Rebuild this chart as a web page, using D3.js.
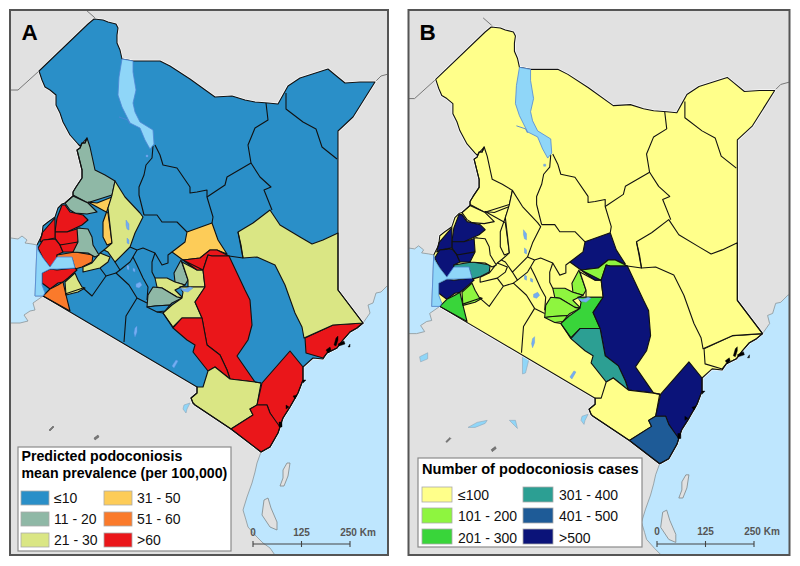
<!DOCTYPE html>
<html><head><meta charset="utf-8">
<script src="https://cdn.jsdelivr.net/npm/d3@7/dist/d3.min.js"></script>
<style>html,body{margin:0;padding:0;background:#fff}svg{display:block}text{font-family:"Liberation Sans",Arial,sans-serif}</style>
</head><body><svg id="c" width="800" height="566"></svg>
<script>
// ---- Map geometry, in map grid units ----
const kenyaOutline=[[37,245],[42,235],[43,226],[48,222],[55,217],[58,208],[62,204],[65,203],[73,196],[73,192],[76,187],[82,178],[82,170],[77,150],[80,148],[82,143],[85,143],[87,138],[80,146],[78,144],[70,135],[63,122],[60,113],[56,105],[56,95],[50,90],[45,87],[42,80],[39,71],[88,24],[94,19],[103,20],[108,22],[116,24],[118,28],[117,35],[117,43],[120,50],[122,59],[133,61],[160,61],[170,66],[190,79],[215,97],[232,96],[245,100],[255,102],[268,103],[278,104],[283,95],[288,86],[300,78],[328,69],[334,74],[345,83],[360,82],[375,82],[353,117],[338,131],[338,290],[363,323],[357,328],[350,332],[343,340],[337,348],[327,353],[323,359],[313,358],[303,367],[303,380],[298,393],[290,407],[283,418],[278,433],[270,447],[261,452],[231,429],[195,405],[193,403],[191,398],[197,393],[197,387],[43,296]];
const oceanRing=[[396,282],[388,285],[381,292],[376,293],[373,303],[368,305],[370,313],[363,323],[357,328],[350,332],[343,340],[337,348],[327,353],[323,359],[313,358],[303,367],[303,380],[298,393],[290,407],[283,418],[278,433],[270,447],[261,452],[257,463],[255,472],[252,483],[247,497],[243,510],[246,520],[248,527],[256,536],[263,543],[270,548],[277,558],[396,558]];
const victoriaRing=[[4,238],[11,238],[18,239],[22,236],[27,240],[25,243],[32,244],[37,245],[35,296],[43,296],[33,303],[35,310],[30,311],[24,315],[28,321],[20,323],[4,323]];
const victoriaKenya=[[37,245],[38,250],[43,258],[50,267],[57,257],[72,257],[75,268],[57,269],[50,269],[42,273],[42,285],[45,293],[43,296],[35,296]];
const turkanaLake=[[122,59],[133,61],[133,72],[136,90],[133,103],[135,112],[140,122],[153,130],[154,144],[150,149],[145,140],[140,128],[130,123],[122,107],[118,95],[119,77]];
const smallLakes=[[[126,220],[129,224],[129,230],[127,229],[126,225]],[[127,238],[129,240],[129,244],[127,243]],[[127,265],[129,266],[129,270],[127,269]],[[133,268],[135,269],[135,272],[133,271]],[[136,284],[140,282],[142,285],[139,288],[136,287]],[[180,288],[185,289],[190,287],[193,288],[188,292],[183,291]],[[146,155],[148,155],[148,157],[146,157]],[[135,328],[137,326],[137,332],[135,337],[134,333]],[[172,366],[176,360],[178,361],[174,368]]];
const outerLakesBoth=[[[184,405],[190,403],[187,409],[186,413],[183,409]]];
const outerLakesB=[[[125,344],[130,342],[131,350],[128,362],[125,363]],[[23,346],[31,342],[31,348],[24,351]],[[71,416],[80,411],[90,409],[88,412],[78,416]],[[112,409],[118,409],[120,417],[117,414]]];
const islands=[[[283,470],[287,463],[290,463],[288,476],[284,486],[280,486],[283,478]],[[264,500],[268,498],[271,508],[277,522],[277,530],[270,527],[262,515]]];
const darkSpecks=[[[49,430],[53,426],[54,427],[50,431]],[[94,438],[98,435],[99,437],[95,440]]];
const mangroves=[[[326,350],[330,347],[331,350],[328,353]],[[334,345],[336,338],[338,336],[338,340],[336,346]],[[338,344],[344,341],[345,344],[339,346]],[[279,422],[282,422],[282,427],[279,427]],[[303,380],[306,380],[303,383]],[[293,396],[297,395],[295,399]],[[286,405],[289,407],[286,409]],[[348,347],[350,344],[350,347]]];
const neighbourLines=[[[4,90],[18,90],[39,71]],[[86,10],[94,17],[96,19]],[[375,82],[381,76],[392,73]]];
const turkwelRiver=[[119,117],[128,120],[130,124]];

const regionNames=["West Pokot","Trans Nzoia","Bungoma","Kakamega","Busia","Siaya","Vihiga","Kisumu","Homa Bay","Migori","Kisii","Kericho","Nandi","Elgeyo","Baringo","Meru","Tharaka","Kirinyaga","Nyeri","Murang'a","Nairobi","Embu","Machakos","Kitui","Makueni","Taita","Kilifi","Kwale","Lamu","Garissa"];
const regionRings=[
[[87,138],[90,147],[95,170],[105,175],[115,181],[112,195],[90,202],[88,203],[73,195],[73,192],[76,187],[82,178],[82,170],[77,150],[80,148],[82,143],[85,143]],
[[65,203],[73,196],[88,203],[97,212],[87,214],[75,213],[70,210]],
[[65,205],[70,212],[83,215],[88,220],[82,225],[67,232],[55,232],[57,218],[62,205]],
[[55,232],[67,232],[80,228],[78,242],[70,245],[60,245],[55,238]],
[[42,233],[55,218],[55,232],[55,238],[45,240],[40,242]],
[[38,248],[43,240],[55,239],[60,245],[63,252],[57,255],[58,260],[50,267],[43,258]],
[[60,245],[78,242],[75,252],[63,252]],
[[57,255],[75,252],[93,255],[92,262],[82,267],[75,269],[72,258],[57,258]],
[[42,273],[50,269],[57,270],[75,268],[77,270],[68,278],[63,282],[58,283],[50,289],[42,283]],
[[43,296],[50,289],[58,285],[63,282],[66,295],[70,311]],
[[65,282],[75,273],[78,280],[82,287],[85,288],[78,292],[66,295]],
[[83,267],[92,263],[100,253],[110,257],[108,262],[100,268],[83,272]],
[[77,228],[88,229],[92,237],[93,245],[99,255],[95,257],[88,253],[73,252],[78,242]],
[[88,202],[97,203],[112,197],[108,208],[103,222],[103,237],[107,245],[112,243],[108,213]],
[[115,181],[125,197],[140,213],[143,217],[135,233],[130,247],[115,262],[108,252],[104,250],[112,243],[110,225],[108,208],[112,195]],
[[172,252],[185,242],[187,232],[212,223],[218,240],[227,254],[217,250],[210,250],[200,258],[183,260]],
[[183,260],[200,258],[210,250],[217,250],[229,256],[219,256],[212,256],[208,255],[203,270],[197,270]],
[[181,260],[188,280],[185,285],[175,282],[174,273]],
[[155,278],[167,278],[175,282],[185,285],[175,290],[183,298],[177,297],[162,288],[157,287]],
[[153,287],[162,288],[177,297],[182,298],[172,303],[170,305],[155,306],[147,307],[148,295]],
[[147,307],[155,306],[170,305],[165,311],[157,312]],
[[182,262],[197,270],[203,270],[205,287],[180,287],[188,287],[188,280]],
[[180,287],[205,287],[195,302],[202,318],[182,318],[173,327],[163,313],[172,305],[182,298],[183,292]],
[[183,260],[197,270],[203,270],[208,255],[212,256],[229,256],[245,290],[250,300],[252,325],[248,340],[237,356],[255,382],[230,379],[227,370],[220,355],[207,345],[202,318],[195,302],[205,287],[203,270]],
[[173,328],[182,318],[202,318],[207,345],[220,355],[227,370],[230,379],[215,367],[208,371],[193,352],[195,345],[187,340]],
[[215,367],[230,379],[255,382],[261,383],[257,405],[250,409],[253,415],[231,429],[195,405],[193,403],[191,398],[197,393],[197,387],[203,387],[208,371]],
[[290,351],[303,367],[303,380],[298,393],[290,407],[283,418],[279,428],[270,413],[267,405],[257,405],[262,383]],
[[257,405],[267,405],[270,413],[280,427],[278,433],[270,447],[261,452],[231,429],[253,415],[250,409]],
[[305,338],[333,325],[363,323],[357,328],[350,332],[343,340],[337,348],[327,353],[323,358],[306,353]],
[[238,232],[253,223],[270,210],[280,225],[300,237],[312,244],[323,240],[338,233],[338,290],[363,323],[333,325],[304,338],[302,327],[295,313],[285,285],[275,265],[257,257],[243,258],[241,245]]
];
const classPanelA=[1,1,5,5,5,5,5,4,5,4,2,2,1,3,2,3,5,1,2,1,0,2,2,5,5,2,5,5,5,2];
const classPanelB=[0,0,5,5,5,5,5,3,5,2,1,0,0,0,0,5,1,1,1,1,1,0,2,5,3,0,5,4,0,0];

const borderLines=[
[[153,146],[152,158],[146,165],[144,175],[139,187],[139,195],[144,215]],
[[155,145],[160,155],[163,165],[177,168],[190,187],[190,193],[197,192],[207,190],[207,197],[213,217],[212,223]],
[[207,197],[225,185],[227,177],[251,163],[248,145],[255,128],[268,120],[266,103]],
[[251,163],[260,177],[271,187],[264,190],[272,210]],
[[286,93],[286,109],[303,122],[316,129],[322,147],[337,159]],
[[144,215],[157,215],[162,222],[177,222],[187,232]],
[[172,252],[168,255],[168,263],[162,265],[155,253],[143,248],[137,250],[130,247]],
[[238,232],[243,258]],
[[229,256],[243,258]],
[[137,250],[133,257],[137,265],[143,278],[148,287],[147,300]],
[[155,253],[152,262],[152,272],[155,278]],
[[115,262],[120,270],[130,262],[133,257]],
[[100,268],[106,276],[116,273],[129,285],[137,298],[147,303]],
[[106,276],[99,286],[92,296],[83,288],[65,294]],
[[137,298],[126,316],[124,342]],
[[163,313],[157,312]],
[[173,328],[163,313]],
[[104,250],[100,253]],
[[120,270],[116,273]],
[[255,382],[261,383]]
];

// ---- Legends and labels ----
const classLabelsA=["≤10","11 - 20","21 - 30","31 - 50","51 - 60",">60"];
const classLabelsB=["≤100","101 - 200","201 - 300","301 - 400","401 - 500",">500"];
const classColorsA=["#2a8fc8","#8fb8a6","#dae684","#fdcc58","#fa7a2b","#ea161a"];
const classColorsB=["#ffff8a","#8ef53f","#39d53a","#2c9f93","#1e5b97","#0b1379"];
const legendTitleA=["Predicted podoconiosis","mean prevalence (per 100,000)"];
const legendTitleB=["Number of podoconiosis cases"];
const scaleKm=[0,125,250];

const svg=d3.select("#c");
const oceanC="#bee6fe",landC="#e1e1e1",lakeC="#8fd6f8",lakeInner="#74aef2",lineC="#111";

function panel(cfg){
  const g=svg.append("g");
  const cid="clip"+cfg.letter;
  svg.append("clipPath").attr("id",cid).append("rect").attr("x",cfg.frame[0]).attr("y",cfg.frame[1]).attr("width",cfg.frame[2]-cfg.frame[0]).attr("height",cfg.frame[3]-cfg.frame[1]);
  const x=d3.scaleLinear().domain([0,800]).range([cfg.tx,cfg.tx+800*cfg.k]);
  const y=d3.scaleLinear().domain([0,566]).range([cfg.ty,cfg.ty+566*cfg.k]);
  const line=d3.line().x(d=>x(d[0])).y(d=>y(d[1]));
  const ring=d=>line(d)+"Z";
  const m=g.append("g").attr("clip-path",`url(#${cid})`);
  m.append("rect").attr("x",cfg.frame[0]).attr("y",cfg.frame[1]).attr("width",cfg.frame[2]-cfg.frame[0]).attr("height",cfg.frame[3]-cfg.frame[1]).attr("fill",landC);
  m.append("path").attr("d",ring(oceanRing)).attr("fill",oceanC).attr("stroke","#8a9498").attr("stroke-width",.8);
  m.append("path").attr("d",ring(victoriaRing)).attr("fill",oceanC).attr("stroke","#8a9498").attr("stroke-width",.8);
  m.selectAll(".isl").data(islands).join("path").attr("d",ring).attr("fill",landC).attr("stroke","#7d8689").attr("stroke-width",.8);
  m.selectAll(".spk").data(darkSpecks).join("path").attr("d",ring).attr("fill","#777").attr("stroke","#555").attr("stroke-width",.5);
  m.selectAll(".nb").data(neighbourLines).join("path").attr("d",line).attr("fill","none").attr("stroke","#777").attr("stroke-width",1);
  m.selectAll(".ol").data(cfg.outerLakes).join("path").attr("d",ring).attr("fill",lakeC).attr("stroke","#8fa6b8").attr("stroke-width",.6);
  m.append("path").attr("d",line(kenyaOutline)).attr("fill","none").attr("stroke","#fff").attr("stroke-width",2.6).attr("stroke-opacity",.8);
  m.append("path").attr("d",ring(kenyaOutline)).attr("fill",cfg.colors[0]);
  m.selectAll(".cty").data(regionRings).join("path").attr("d",ring)
    .attr("fill",(d,i)=>cfg.colors[cfg.classes[i]]).attr("stroke",lineC).attr("stroke-width",1.1).attr("stroke-linejoin","round")
    .append("title").text((d,i)=>regionNames[i]);
  m.selectAll(".bd").data(borderLines).join("path").attr("d",line).attr("fill","none").attr("stroke",lineC).attr("stroke-width",1.1).attr("stroke-linejoin","round");
  m.append("path").attr("d",line(kenyaOutline)).attr("fill","none").attr("stroke",lineC).attr("stroke-width",1.1).attr("stroke-linejoin","round");
  m.append("path").attr("d",ring(victoriaKenya)).attr("fill",lakeC).attr("stroke","#4f86d6").attr("stroke-width",.8);
  m.append("path").attr("d",ring(turkanaLake)).attr("fill",lakeC).attr("stroke","#4f86d6").attr("stroke-width",.8);
  m.append("path").attr("d",line(turkwelRiver)).attr("fill","none").attr("stroke","#4f86d6").attr("stroke-width",.9);
  m.selectAll(".sl").data(smallLakes).join("path").attr("d",ring).attr("fill",lakeInner).attr("stroke","#5a8fe0").attr("stroke-width",.4);
  m.selectAll(".mg").data(mangroves).join("path").attr("d",ring).attr("fill","#000").attr("stroke","#000").attr("stroke-width",.4);
  g.append("rect").attr("x",cfg.frame[0]).attr("y",cfg.frame[1]).attr("width",cfg.frame[2]-cfg.frame[0]).attr("height",cfg.frame[3]-cfg.frame[1]).attr("fill","none").attr("stroke","#555").attr("stroke-width",2);
  g.append("text").attr("x",cfg.letterX).attr("y",40).attr("font-size",22.5).attr("font-weight","bold").attr("fill","#000").text(cfg.letter);
  const L=cfg.legend;
  g.append("rect").attr("x",L.box[0]).attr("y",L.box[1]).attr("width",L.box[2]-L.box[0]).attr("height",L.box[3]-L.box[1]).attr("fill","#fff").attr("stroke","#8b8b8b").attr("stroke-width",1.2);
  L.title.forEach((t,i)=>g.append("text").attr("x",L.titleX).attr("y",L.titleY[i]).attr("font-size",L.titleSize).attr("font-weight","bold").attr("fill","#000").text(t));
  cfg.labels.forEach((t,i)=>{
    const col=i<3?0:1,row=i%3;
    g.append("rect").attr("x",L.swX[col]).attr("y",L.swY[row]).attr("width",L.swW).attr("height",L.swH).attr("fill",cfg.colors[i]).attr("stroke","#aaa").attr("stroke-width",.8);
    g.append("text").attr("x",L.labX[col]).attr("y",L.labY[row]).attr("font-size",14).attr("fill","#111").text(t);
  });
  const s=d3.scaleLinear().domain([0,250]).range(cfg.bar);
  const by=544;
  g.append("line").attr("x1",s(0)).attr("x2",s(250)).attr("y1",by).attr("y2",by).attr("stroke","#444").attr("stroke-width",1.2);
  scaleKm.forEach(k=>{
    g.append("line").attr("x1",s(k)).attr("x2",s(k)).attr("y1",by-3).attr("y2",by+3).attr("stroke","#444").attr("stroke-width",1.1);
    g.append("text").attr("x",k===250?s(k)+8:s(k)).attr("y",cfg.barY).attr("text-anchor","middle").attr("font-size",10).attr("font-weight","bold").attr("fill","#555").text(k===250?k+" Km":k);
  });
}

panel({letter:"A",letterX:21.5,frame:[10,10,388,555],tx:0,ty:0,k:1,colors:classColorsA,classes:classPanelA,labels:classLabelsA,bar:[253,350],barY:536,outerLakes:outerLakesBoth,
  legend:{box:[18,447,231,551],title:legendTitleA,titleX:21.5,titleY:[461,478],titleSize:14.2,swX:[21,104],swY:[491,512,533],swW:28,swH:14,labX:[54,137],labY:[503,524,545]}});
panel({letter:"B",letterX:419.5,frame:[408.5,10,789.5,555],tx:396.4,ty:7.8,k:1.0087,colors:classColorsB,classes:classPanelB,labels:classLabelsB,bar:[657,754],barY:535,outerLakes:outerLakesBoth.concat(outerLakesB),
  legend:{box:[418,458,642,547],title:legendTitleB,titleX:422,titleY:[474],titleSize:14.6,swX:[422,523],swY:[487,508,529],swW:30,swH:15,labX:[458,559],labY:[500,521,542.5]}});
</script></body></html>
